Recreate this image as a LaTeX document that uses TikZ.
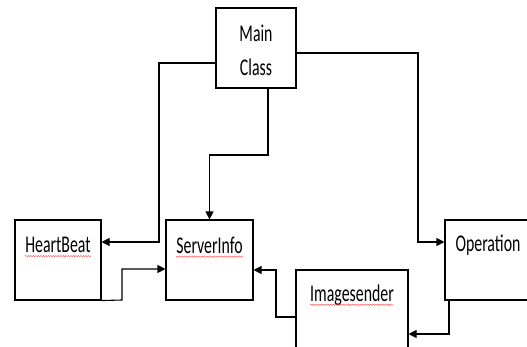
\documentclass[tikz,border=0pt]{standalone}
\usepackage{fontspec}
\newfontfamily\boxfont[FakeStretch=0.66]{Carlito}
\usetikzlibrary{arrows.meta,positioning,calc,decorations.pathmorphing}

\begin{document}
\begin{tikzpicture}[x=1pt, y=-1pt,
    box/.style={draw, line width=1.1pt, inner sep=0pt},
    classtext/.style={inner sep=0pt, font=\boxfont\fontsize{24}{34}\selectfont, align=center},
    link/.style={line width=1.1pt, -{Triangle[length=8pt,width=8pt]}},
    squiggle/.style={red!75, line width=0.4pt, decorate, decoration={snake, segment length=2.5pt, amplitude=0.7pt}}]
    \useasboundingbox (0,0) rectangle (527,347);

    % Classes
    \node[box, minimum width=80pt, minimum height=80pt] (main) at (256,48) {};
    \node[classtext] (maint) at (256,50) {Main\\Class};

    \node[box, minimum width=86pt, minimum height=80pt] (hb) at (58,260) {};
    \node[classtext] (hbt) at (58,245) {HeartBeat};

    \node[box, minimum width=87pt, minimum height=80pt] (si) at (209.5,260) {};
    \node[classtext] (sit) at (209.5,245) {ServerInfo};

    \node[box, minimum width=86pt, minimum height=80pt] (op) at (488,260) {};
    \node[classtext] (opt) at (488,245) {Operation};

    \node[box, minimum width=112pt, minimum height=80pt] (is) at (352,310) {};
    \node[classtext] (ist) at (352,295) {Imagesender};

    % Spell check marks
    \foreach \t in {hbt,sit,ist}
        \draw[squiggle] ([yshift=-3.5pt]\t.base west) -- ([yshift=-3.5pt]\t.base east);

    % Links from Main Class
    \draw[link] ([yshift=-15pt]main.west) -| (159,242) -- (hb.east |- 0,242);
    \draw[link] ([xshift=12pt]main.south) |- (si.north |- 0,155) -- (si.north);
    \draw[link] ([yshift=-5pt]main.east) -| (418,242) -- (op.west |- 0,242);

    % Links into ServerInfo
    \draw[link] (hb.south east) -- (122,300) |- (si.west |- 0,269);
    \draw[link] (is.west |- 0,317) -| (276,270) -- (si.east |- 0,270);

    % Operation to Imagesender
    \draw[link] (op.south -| 449,0) |- (is.east |- 0,334);
\end{tikzpicture}
\end{document}
